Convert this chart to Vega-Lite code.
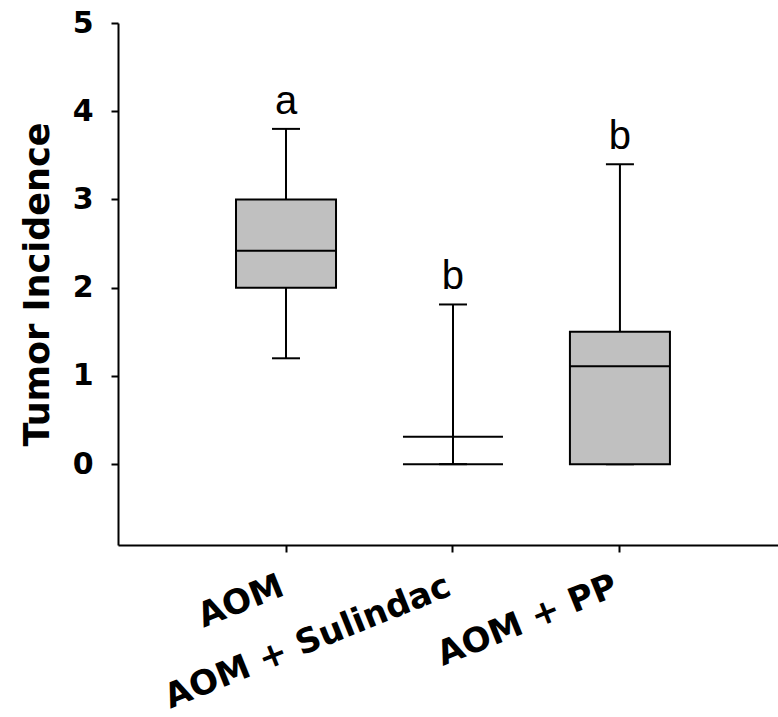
{
  "$schema": "https://vega.github.io/schema/vega-lite/v6.json",
  "autosize": "none",
  "padding": {"left": 118, "top": 23, "right": 0, "bottom": 172},
  "width": 660,
  "height": 522,
  "background": "white",
  "config": {
    "view": {"stroke": null},
    "axisY": {
      "titleFont": "DejaVu Sans",
      "titleFontWeight": "bold",
      "titleFontSize": 35,
      "titleColor": "black",
      "titlePadding": 17,
      "labelFont": "DejaVu Sans",
      "labelFontWeight": "bold",
      "labelFontSize": 30,
      "labelColor": "black",
      "labelPadding": 18,
      "tickSize": 7,
      "tickWidth": 2,
      "tickColor": "black",
      "domainColor": "black",
      "domainWidth": 2,
      "grid": false
    }
  },
  "data": {
    "values": [
      {"group": "AOM", "lower": 1.2, "q1": 2.0, "median": 2.42, "q3": 3.0, "upper": 3.8, "letter": "a"},
      {"group": "AOM + Sulindac", "lower": 0, "q1": 0, "median": 0.31, "q3": 0, "upper": 1.81, "letter": "b"},
      {"group": "AOM + PP", "lower": 0, "q1": 0, "median": 1.11, "q3": 1.5, "upper": 3.4, "letter": "b"}
    ]
  },
  "encoding": {
    "x": {
      "field": "group",
      "type": "nominal",
      "sort": null,
      "scale": {"paddingInner": 0.401, "paddingOuter": 0.677, "align": 0.522},
      "axis": {
        "title": null,
        "labelAngle": -22,
        "labelAlign": "right",
        "labelBaseline": "alphabetic",
        "labelFont": "DejaVu Sans",
        "labelFontWeight": "bold",
        "labelFontSize": 34,
        "labelColor": "black",
        "labelPadding": 42,
        "labelLimit": 500,
        "labelOverlap": false,
        "labelBound": false,
        "labelFlush": false,
        "bandPosition": 0.5,
        "tickSize": 7,
        "tickWidth": 2,
        "tickColor": "black",
        "domainColor": "black",
        "domainWidth": 2,
        "grid": false
      }
    }
  },
  "layer": [
    {
      "mark": {"type": "rule", "strokeWidth": 2, "color": "black"},
      "encoding": {
        "y": {
          "field": "lower",
          "type": "quantitative",
          "scale": {"domain": [-0.916, 5], "nice": false, "zero": false},
          "axis": {"title": "Tumor Incidence", "values": [0, 1, 2, 3, 4, 5]}
        },
        "y2": {"field": "upper"}
      }
    },
    {
      "mark": {"type": "tick", "size": 28, "thickness": 2, "color": "black", "opacity": 1},
      "encoding": {
        "y": {"field": "upper", "type": "quantitative", "scale": {"domain": [-0.916, 5], "nice": false, "zero": false}, "axis": {"title": "Tumor Incidence", "values": [0, 1, 2, 3, 4, 5]}}
      }
    },
    {
      "mark": {"type": "tick", "size": 28, "thickness": 2, "color": "black", "opacity": 1},
      "encoding": {
        "y": {"field": "lower", "type": "quantitative", "scale": {"domain": [-0.916, 5], "nice": false, "zero": false}, "axis": {"title": "Tumor Incidence", "values": [0, 1, 2, 3, 4, 5]}}
      }
    },
    {
      "mark": {"type": "bar", "fill": "#c0c0c0", "stroke": "black", "strokeWidth": 2},
      "encoding": {
        "y": {"field": "q1", "type": "quantitative", "scale": {"domain": [-0.916, 5], "nice": false, "zero": false}, "axis": {"title": "Tumor Incidence", "values": [0, 1, 2, 3, 4, 5]}},
        "y2": {"field": "q3"}
      }
    },
    {
      "mark": {"type": "tick", "size": 100, "thickness": 2, "color": "black", "opacity": 1},
      "encoding": {
        "y": {"field": "median", "type": "quantitative", "scale": {"domain": [-0.916, 5], "nice": false, "zero": false}, "axis": {"title": "Tumor Incidence", "values": [0, 1, 2, 3, 4, 5]}}
      }
    },
    {
      "mark": {"type": "text", "font": "Liberation Sans", "fontSize": 40, "color": "black", "dy": -15, "baseline": "alphabetic", "align": "center"},
      "encoding": {
        "y": {"field": "upper", "type": "quantitative", "scale": {"domain": [-0.916, 5], "nice": false, "zero": false}, "axis": {"title": "Tumor Incidence", "values": [0, 1, 2, 3, 4, 5]}},
        "text": {"field": "letter"}
      }
    }
  ]
}
